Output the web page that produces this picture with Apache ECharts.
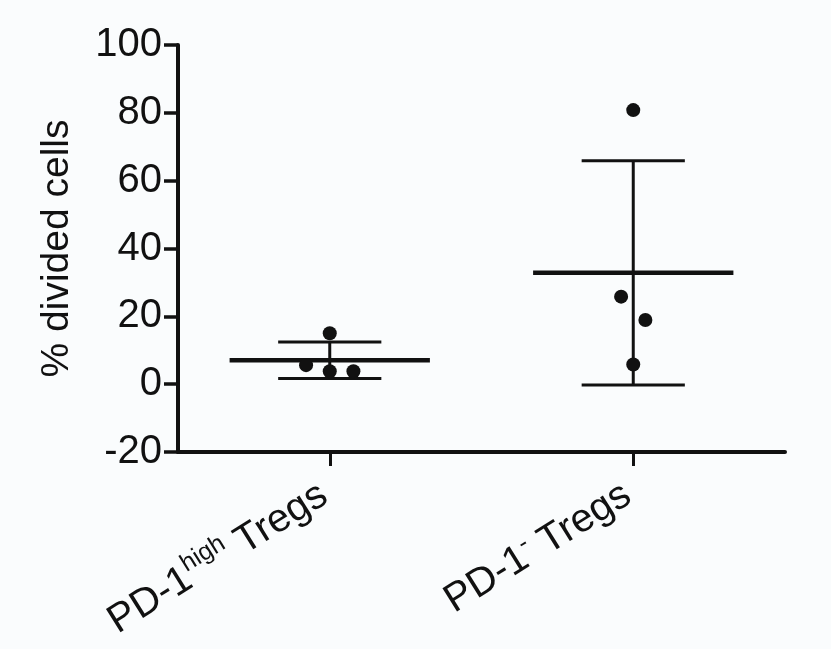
<!DOCTYPE html>
<html>
<head>
<meta charset="utf-8">
<script src="https://cdn.jsdelivr.net/npm/echarts@6/dist/echarts.min.js"></script>
<style>
html,body{margin:0;padding:0;background:#fafcfd;}
#chart{width:831px;height:649px;}
</style>
</head>
<body>
<div id="chart"></div>
<script>
var groups = ['PD-1 high', 'PD-1 minus'];
var groupLabels = ['{a|PD-1}{s|high}{e| Tregs}', '{a|PD-1}{s|-}{e| Tregs}'];
var valuesHigh = [15.0, 5.6, 3.8, 3.8];
var valuesNeg = [80.8, 25.8, 18.9, 5.8];
// horizontal scatter of the dots (category units)
var jitterHigh = [0, -0.078, 0, 0.078];
var jitterNeg = [0, -0.04, 0.04, 0];
var yTicks = [-20, 0, 20, 40, 60, 80, 100];

function mean(a){ var s = 0; a.forEach(function(v){ s += v; }); return s / a.length; }
function sd(a){
    var m = mean(a), s = 0;
    a.forEach(function(v){ s += (v - m) * (v - m); });
    return Math.sqrt(s / (a.length - 1));
}

var allValues = [valuesHigh, valuesNeg];
var allJitter = [jitterHigh, jitterNeg];

var dots = [];
allValues.forEach(function(vals, i){
    vals.forEach(function(v, j){ dots.push([i + allJitter[i][j], v]); });
});
var stats = allValues.map(function(vals, i){ return [i, mean(vals), sd(vals)]; });

var axisColor = '#111';
var font = 'Liberation Sans, Arial, sans-serif';

var option = {
    backgroundColor: '#fafcfd',
    animation: false,
    grid: {
        left: 178,
        right: 46,
        top: 45,
        bottom: 197
    },
    xAxis: [{
        type: 'category',
        data: groups,
        boundaryGap: true,
        axisLine: { show: true, onZero: false, lineStyle: { color: axisColor, width: 4 } },
        axisTick: { show: true, alignWithLabel: true, interval: 0, length: 14, lineStyle: { color: axisColor, width: 3 } },
        axisLabel: {
            rotate: 32,
            margin: 34,
            interval: 0,
            formatter: function(v, i){ return groupLabels[i]; },
            rich: {
                a: { fontSize: 40, fontFamily: font, color: '#111', verticalAlign: 'bottom', lineHeight: 44 },
                e: { fontSize: 40, fontFamily: font, color: '#111', verticalAlign: 'bottom', lineHeight: 44, padding: [0, 8, 0, 0] },
                s: { fontSize: 25, fontFamily: font, color: '#111', verticalAlign: 'top', lineHeight: 44 }
            }
        },
        splitLine: { show: false }
    }, {
        type: 'value',
        min: -0.5,
        max: 1.5,
        show: false,
        axisLine: { onZero: false }
    }],
    yAxis: {
        type: 'value',
        min: -20,
        max: 100,
        interval: 20,
        name: '% divided cells',
        nameLocation: 'middle',
        nameGap: 101,
        nameTextStyle: { fontSize: 39, fontFamily: font, color: '#111' },
        axisLine: { show: true, onZero: false, lineStyle: { color: axisColor, width: 4 } },
        axisTick: { show: true, length: 14, lineStyle: { color: axisColor, width: 3.5 } },
        axisLabel: {
            fontSize: 40,
            fontFamily: font,
            color: '#111',
            margin: 16,
            formatter: function(v){ return yTicks.indexOf(v) >= 0 ? String(v) : ''; }
        },
        splitLine: { show: false }
    },
    series: [{
        type: 'custom',
        xAxisIndex: 1,
        data: stats,
        renderItem: function(params, api){
            var x = api.value(0), m = api.value(1), s = api.value(2);
            var c = api.coord([x, m]);
            var top = api.coord([x, m + s]);
            var bot = api.coord([x, m - s]);
            var unit = api.size([1, 0])[0];
            var wMean = unit * 0.33, wCap = unit * 0.17;
            var st = { stroke: '#111', lineWidth: 3 };
            return {
                type: 'group',
                children: [
                    { type: 'line', shape: { x1: c[0], y1: top[1], x2: c[0], y2: bot[1] }, style: st },
                    { type: 'line', shape: { x1: c[0] - wCap, y1: top[1], x2: c[0] + wCap, y2: top[1] }, style: st },
                    { type: 'line', shape: { x1: c[0] - wCap, y1: bot[1], x2: c[0] + wCap, y2: bot[1] }, style: st },
                    { type: 'line', shape: { x1: c[0] - wMean, y1: c[1], x2: c[0] + wMean, y2: c[1] }, style: { stroke: '#111', lineWidth: 4.5 } }
                ]
            };
        }
    }, {
        type: 'scatter',
        xAxisIndex: 1,
        data: dots,
        symbol: 'circle',
        symbolSize: 14,
        itemStyle: { color: '#111', opacity: 1 },
        z: 5
    }]
};

var chart = echarts.init(document.getElementById('chart'));
chart.setOption(option);
</script>
</body>
</html>
